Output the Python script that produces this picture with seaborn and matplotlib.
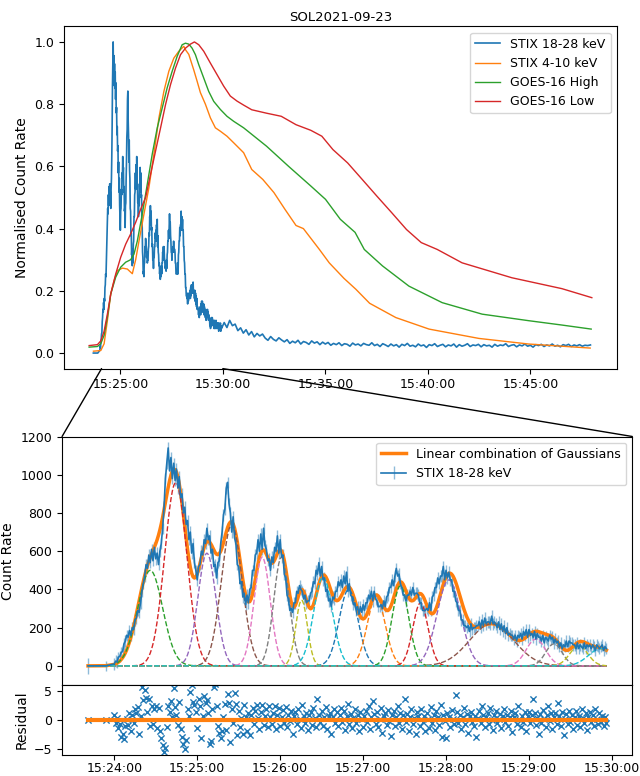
import numpy as np
import pandas as pd
import matplotlib
matplotlib.use("Agg")
import matplotlib.pyplot as plt
import matplotlib.dates as mdates
from matplotlib.patches import ConnectionPatch
import seaborn as sns

plt.rcParams["font.size"] = 9
plt.rcParams["axes.labelsize"] = 10
plt.rcParams["axes.titlesize"] = 9.5

# ---- reference times ----
T0 = pd.Timestamp("2021-09-23 15:24:00")   # zero of the STIX 18-28 keV bins
T25 = pd.Timestamp("2021-09-23 15:25:00")  # zero for the minute offsets of the top panel
TAIL_START = pd.Timestamp("2021-09-23 15:30:04")

# ---- STIX 18-28 keV counts (two long bins, then 1 s bins from 15:24:00) ----
early_sec = [-19, -6]
early_counts = [0, 0]
early_err = [40, 25]
count_err = 30
counts = [
    10, 25, 20, 45, 50, 70, 75, 115, 130, 160, 150, 185, 160, 200, 190, 240, 250, 290, 280, 330,
    390, 430, 470, 530, 510, 580, 540, 610, 550, 620, 560, 590, 530, 600, 640, 720, 830, 980, 1060, 1140,
    1020, 1090, 980, 1060, 970, 1030, 930, 990, 880, 900, 800, 830, 740, 760, 660, 700, 590, 640, 540, 500,
    450, 520, 530, 600, 580, 660, 640, 720, 660, 680, 590, 610, 520, 530, 460, 540, 550, 640, 700, 790,
    820, 930, 960, 850, 800, 700, 780, 670, 640, 530, 520, 430, 440, 360, 380, 320, 370, 330, 400, 410,
    500, 500, 580, 590, 660, 600, 690, 610, 720, 630, 610, 550, 560, 500, 570, 540, 620, 600, 680, 590,
    660, 570, 580, 480, 460, 370, 350, 290, 300, 280, 330, 330, 390, 380, 420, 400, 390, 350, 370, 330,
    340, 340, 380, 390, 440, 430, 500, 480, 540, 470, 520, 450, 460, 390, 400, 340, 350, 310, 360, 350,
    390, 390, 440, 420, 450, 410, 470, 430, 490, 390, 430, 370, 360, 320, 330, 290, 310, 270, 310, 280,
    320, 290, 330, 330, 370, 350, 390, 340, 390, 350, 340, 310, 310, 320, 300, 340, 310, 360, 370, 410,
    410, 450, 420, 470, 510, 470, 480, 430, 410, 370, 370, 340, 370, 370, 390, 370, 410, 370, 380, 380,
    370, 330, 330, 290, 290, 290, 300, 290, 330, 290, 360, 370, 410, 410, 460, 430, 470, 470, 520, 450,
    500, 460, 490, 450, 450, 390, 390, 340, 330, 290, 290, 240, 240, 210, 210, 200, 210, 180, 220, 190,
    200, 200, 210, 210, 230, 200, 240, 210, 250, 220, 230, 230, 220, 260, 220, 230, 220, 200, 230, 190,
    220, 180, 210, 170, 200, 160, 170, 160, 160, 140, 160, 130, 160, 150, 170, 140, 180, 160, 190, 150,
    190, 160, 170, 150, 180, 140, 170, 150, 150, 130, 160, 120, 150, 140, 130, 160, 140, 150, 120, 140,
    120, 130, 100, 120, 90, 110, 100, 130, 100, 130, 120, 120, 110, 110, 90, 120, 90, 110, 100, 90,
    120, 90, 110, 100, 110, 90, 110, 100, 80, 110, 100, 90, 100, 110, 80, 100, 90,
]

# ---- residuals of the fit, same bins ----
early_resid = [0.0, 0.0]
residuals = [
    0.9, -0.5, 0.3, -1.4, -0.8, -2.9, -2.4, -3.3, -1.0, 0.2, -0.9, 1.1, -2.0, 0.8, -0.6, 1.9, 1.2, 2.2, -2.5, 0.6,
    5.6, 3.4, 5.2, 3.8, 1.3, 3.6, -1.0, 2.4, -0.8, 1.9, 2.3, -1.4, 2.1, -1.9, -3.1, -4.4, -5.6, -4.8, -1.2, 2.3,
    1.4, 3.2, 0.4, 5.4, 2.2, 0.8, -0.9, 3.1, -1.6, -3.0, -4.1, -5.0, -3.5, 1.8, 0.6, 4.8, 6.0, 3.1, 2.6, 1.4,
    -1.4, 3.6, 2.4, -3.1, 0.6, 4.1, 2.9, 3.4, 1.1, -4.1, -3.6, 1.8, 5.6, 6.1, 2.3, -1.1, -2.2, -3.2, -2.0, 0.4,
    2.7, -1.8, 4.5, 2.9, -3.9, 1.9, -0.6, 4.6, 2.8, -2.6, 1.5, -1.2, 0.3, -2.4, 2.5, 0.4, -1.9, 1.2, -2.7, 0.9,
    2.1, -0.8, 1.6, 2.6, 0.3, -1.5, 1.4, 2.5, -0.9, 0.6, 1.8, -1.2, 2.3, 0.5, -0.7, 1.2, 2.4, -1.5, 0.8, 2.0,
    -1.1, 0.4, 1.7, -0.6, 2.2, -1.3, 0.9, -0.2, 1.5, -2.5, 0.7, 1.3, -0.8, 1.9, 0.2, -1.4, 2.6, 0.6, -0.5, 1.1,
    -1.7, 0.8, 1.4, -0.9, 2.1, 0.3, -1.2, 3.5, 0.9, -0.4, 1.6, -1.0, 0.5, 2.2, -1.5, 0.7, 1.2, -2.4, 0.4, 1.8,
    -0.6, 1.3, -1.1, 0.9, 2.1, -0.3, 1.5, -1.8, 0.6, 2.7, -0.8, 1.0, -1.4, 0.3, 1.9, -0.5, 0.8, -2.0, 1.3, 0.1,
    -1.2, 0.7, 1.6, -0.4, 2.4, -1.6, 0.5, 3.3, 1.0, -0.7, 1.4, -1.3, 0.2, 2.0, -2.3, 0.6, 1.1, -0.9, 1.7, -0.2,
    -2.8, 0.9, 1.5, -1.0, 0.4, 2.3, -0.6, 1.2, -1.5, 0.8, 3.6, -0.4, 1.0, -1.9, 0.5, 1.8, -0.8, 0.3, -2.5, 1.4,
    0.7, -1.1, 1.9, -0.3, 0.6, -2.0, 1.2, 0.2, -1.4, 2.2, -0.5, 0.9, -1.7, 1.5, 0.4, -0.9, 2.6, -3.0, 0.8, -0.2,
    -3.1, 1.1, 0.5, -1.2, 1.7, 0.1, -0.7, 4.2, 1.3, -0.6, 0.9, -1.6, 0.4, 2.1, -0.8, 1.0, -2.2, 0.6, 1.4, -0.4,
    -1.0, 0.7, -3.0, 0.3, 1.6, -0.5, 2.3, 0.9, -1.3, 0.4, 1.2, -0.8, 2.0, -0.1, -1.7, 0.8, 1.5, -0.6, 0.2, 1.0,
    -1.4, 0.6, 1.8, -0.3, 0.9, -1.1, 0.4, 1.6, -2.1, 0.5, 1.1, -0.7, 2.4, 0.2, -1.2, 0.7, -0.4, 1.3, -2.0, 0.6,
    1.4, -0.5, 0.8, 3.6, 1.2, -0.9, 0.3, -2.4, 1.0, -0.6, 1.7, 0.1, -1.3, 0.9, 2.3, -0.2, 1.1, -1.5, 0.5, 1.2,
    -0.8, 2.9, 0.6, -1.1, 1.3, -2.6, 0.2, 1.0, -0.7, 1.6, -0.3, 0.8, -1.6, 0.4, 1.5, -0.9, 0.7, -1.2, 1.9, 0.3,
    -0.6, 1.1, -1.8, 0.5, 1.4, -0.4, 0.9, -1.0, 1.8, 0.2, -0.8, 1.2, -0.3, 0.7, -1.1, 0.5, -0.6,
]

# ---- Gaussian components of the fit (centre s after 15:24:00, peak, width s) ----
gauss_centre = [26, 44.5, 67, 85, 107, 121, 135.5, 151, 169.5, 189.5, 207, 221.5, 242, 273, 305, 318, 336, 352]
gauss_peak = [500, 960, 590, 740, 570, 570, 345, 465, 400, 360, 420, 330, 450, 220, 140, 115, 105, 90]
gauss_width = [9, 8, 6.5, 7.5, 5.8, 5.6, 4.2, 6.8, 6.8, 6.5, 6, 5.5, 8.5, 16, 7, 6, 6.5, 9]

# ---- top panel: STIX 18-28 keV after 15:30 (normalised, 8 s steps) ----
blue_tail = [
    0.098, 0.082, 0.105, 0.088, 0.093,
    0.072, 0.081, 0.064, 0.075,
    0.058, 0.069, 0.052, 0.063, 0.055, 0.061,
    0.048, 0.041, 0.053, 0.044, 0.039, 0.049, 0.042,
    0.036, 0.043, 0.031, 0.038, 0.033, 0.041, 0.029, 0.037, 0.034, 0.028, 0.039, 0.032, 0.036, 0.027, 0.035,
    0.029, 0.034, 0.025, 0.031, 0.027, 0.033, 0.024, 0.030, 0.028, 0.022, 0.032, 0.026, 0.029, 0.023, 0.031,
    0.027, 0.025, 0.033, 0.024, 0.028, 0.021, 0.030,
    0.026, 0.021, 0.029, 0.023, 0.027, 0.019, 0.028, 0.024, 0.031, 0.022, 0.025, 0.020, 0.029, 0.023, 0.026,
    0.018, 0.027, 0.024, 0.030, 0.021,
    0.025, 0.028, 0.020, 0.026, 0.023, 0.029, 0.019, 0.027, 0.022, 0.025, 0.030, 0.021, 0.026, 0.024, 0.028,
    0.020, 0.027, 0.023, 0.025, 0.019,
    0.028, 0.022, 0.026, 0.024, 0.030, 0.021, 0.025, 0.027, 0.020, 0.026, 0.023, 0.029, 0.022, 0.025, 0.019,
    0.027, 0.024, 0.028, 0.021, 0.026,
    0.023, 0.029, 0.022, 0.025, 0.020, 0.027, 0.024, 0.028, 0.021, 0.026, 0.023, 0.027, 0.022, 0.025, 0.024,
    0.026,
]

# ---- top panel: smooth curves (minutes after 15:25, normalised value) ----
orange_min = [-1.311, -0.954, -0.791, -0.630, -0.468, -0.306, -0.143, 0.101, 0.342, 0.585, 0.748, 0.910,
              1.153, 1.395, 1.639, 1.882, 2.124, 2.367, 2.610, 2.853, 3.096, 3.177, 3.339, 3.582, 3.744,
              3.906, 4.149, 4.393, 4.636, 4.879, 5.203, 5.527, 6.014, 6.41, 6.95, 7.49, 8.03, 8.57, 8.93,
              9.71, 10.19, 10.91, 11.49, 12.16, 13.44, 15.06, 17.49, 19.92, 22.92]
orange_val = [0.006, 0.008, 0.03, 0.105, 0.19, 0.233, 0.265, 0.273, 0.27, 0.255, 0.30, 0.36,
              0.447, 0.532, 0.64, 0.756, 0.841, 0.906, 0.948, 0.97, 0.986, 0.975, 0.96, 0.91, 0.874,
              0.837, 0.80, 0.756, 0.724, 0.713, 0.697, 0.676, 0.644, 0.59, 0.558, 0.516, 0.462, 0.41, 0.40,
              0.333, 0.29, 0.24, 0.205, 0.16, 0.114, 0.077, 0.047, 0.029, 0.016]

green_min = [-1.522, -1.117, -0.954, -0.792, -0.630, -0.468, -0.225, 0.018, 0.261, 0.504, 0.666, 0.828,
             1.072, 1.315, 1.558, 1.801, 2.044, 2.287, 2.530, 2.773, 3.015, 3.177, 3.339, 3.501, 3.663,
             3.825, 4.068, 4.311, 4.555, 4.879, 5.203, 5.527, 6.014, 7.13, 8.21, 9.29, 10.01, 10.73,
             11.45, 11.9, 12.79, 14.08, 15.70, 17.65, 19.92, 21.54, 22.97]
green_val = [0.019, 0.021, 0.03, 0.057, 0.116, 0.19, 0.244, 0.276, 0.292, 0.30, 0.318, 0.36,
             0.447, 0.543, 0.64, 0.724, 0.788, 0.853, 0.906, 0.954, 0.991, 0.996, 0.993, 0.98, 0.959,
             0.927, 0.884, 0.841, 0.809, 0.783, 0.761, 0.745, 0.724, 0.665, 0.60, 0.537, 0.494, 0.43,
             0.388, 0.333, 0.28, 0.215, 0.162, 0.125, 0.104, 0.09, 0.077]

red_min = [-1.522, -1.117, -0.954, -0.792, -0.630, -0.468, -0.225, 0.018, 0.261, 0.504, 0.747, 0.990,
           1.233, 1.476, 1.720, 1.963, 2.206, 2.449, 2.692, 2.935, 3.177, 3.420, 3.615, 3.826, 4.069,
           4.393, 4.717, 5.041, 5.366, 5.689, 6.014, 6.41, 7.13, 7.85, 8.57, 9.29, 9.83, 10.37, 11.09,
           11.80, 12.52, 13.24, 13.96, 14.68, 15.46, 16.67, 19.1, 21.54, 23.0]
red_val = [0.024, 0.027, 0.039, 0.07, 0.126, 0.19, 0.254, 0.308, 0.35, 0.383, 0.42, 0.462,
           0.5, 0.575, 0.65, 0.724, 0.799, 0.863, 0.916, 0.959, 0.98, 0.993, 1.0, 0.991, 0.97,
           0.932, 0.895, 0.858, 0.826, 0.81, 0.797, 0.782, 0.771, 0.761, 0.734, 0.716, 0.697, 0.654, 0.611,
           0.558, 0.504, 0.451, 0.397, 0.355, 0.333, 0.29, 0.242, 0.207, 0.178]

# ---- build series ----
sec = np.r_[early_sec, np.arange(len(counts))].astype(float)
t_bins = T0 + pd.to_timedelta(sec, unit="s")
y_counts = np.array(early_counts + counts, dtype=float)
y_err = np.array(early_err + [count_err] * len(counts), dtype=float)
y_resid = np.array(early_resid + residuals)

components = [a * np.exp(-(sec - c) ** 2 / (2 * w ** 2))
              for c, a, w in zip(gauss_centre, gauss_peak, gauss_width)]
fit = np.sum(components, axis=0)

t_tail = pd.date_range(TAIL_START, periods=len(blue_tail), freq="8s")
top_blue = pd.DataFrame({
    "time": list(t_bins) + list(t_tail),
    "value": np.r_[y_counts / y_counts.max(), blue_tail],
})

def minutes_to_time(m):
    return T25 + pd.to_timedelta(np.array(m) * 60, unit="s")

fig = plt.figure(figsize=(6.4, 7.76), dpi=100)
ax_t = fig.add_axes([0.100, 0.525, 0.864, 0.441])
ax_b = fig.add_axes([0.097, 0.1173, 0.891, 0.3202])
ax_r = fig.add_axes([0.097, 0.0275, 0.891, 0.0898], sharex=ax_b)

# top panel
sns.lineplot(data=top_blue, x="time", y="value", ax=ax_t, color="C0", lw=1.2,
             estimator=None, label="STIX 18-28 keV")
sns.lineplot(x=minutes_to_time(orange_min), y=orange_val, ax=ax_t, color="C1", lw=1,
             estimator=None, label="STIX 4-10 keV")
sns.lineplot(x=minutes_to_time(green_min), y=green_val, ax=ax_t, color="C2", lw=1,
             estimator=None, label="GOES-16 High")
sns.lineplot(x=minutes_to_time(red_min), y=red_val, ax=ax_t, color="C3", lw=1,
             estimator=None, label="GOES-16 Low")
ax_t.set_title("SOL2021-09-23", pad=4)
ax_t.set_xlabel("")
ax_t.xaxis.label.set_visible(False)
ax_t.set_ylabel("Normalised Count Rate")
ax_t.legend(loc="upper right")
ax_t.xaxis.set_major_locator(mdates.MinuteLocator(byminute=[25, 30, 35, 40, 45]))
ax_t.xaxis.set_major_formatter(mdates.DateFormatter("%H:%M:%S"))

# bottom panel
ax_b.errorbar(t_bins, y_counts, yerr=y_err, color="C0", ecolor=(0.12, 0.47, 0.71, 0.5),
              lw=1.2, elinewidth=1, label="STIX 18-28 keV")
sns.lineplot(x=t_bins, y=fit, ax=ax_b, color="C1", lw=2.5, estimator=None,
             label="Linear combination of Gaussians")
for i, comp in enumerate(components):
    ax_b.plot(t_bins, comp, "--", lw=1, color=f"C{(i + 2) % 10}")
ax_b.set_ylim(-100, 1200)
ax_b.set_ylabel("Count Rate")
ax_b.set_xlabel("")
ax_b.xaxis.label.set_visible(False)
ax_b.legend(loc="upper right")
ax_b.tick_params(axis="x", bottom=False, labelbottom=False)

# residuals
sns.scatterplot(x=t_bins, y=y_resid, ax=ax_r, marker="x", color="C0", s=20, linewidth=1, zorder=2)
ax_r.plot(t_bins, np.zeros(len(t_bins)), color="C1", lw=3, zorder=3)
ax_r.set_ylim(-6, 6)
ax_r.set_yticks([-5, 0, 5])
ax_r.set_ylabel("Residual")
ax_r.set_xlabel("")
ax_r.xaxis.label.set_visible(False)
ax_r.tick_params(axis="x", pad=1.5)
ax_r.xaxis.set_major_locator(mdates.MinuteLocator())
ax_r.xaxis.set_major_formatter(mdates.DateFormatter("%H:%M:%S"))

# zoom connectors
zoom_from = [pd.Timestamp("2021-09-23 15:24:05"), pd.Timestamp("2021-09-23 15:30:00")]
for ts, corner in zip(zoom_from, [(0, 1), (1, 1)]):
    con = ConnectionPatch(xyA=(mdates.date2num(ts), 0), coordsA=ax_t.get_xaxis_transform(),
                          xyB=corner, coordsB=ax_b.transAxes, color="black", lw=1)
    fig.add_artist(con)

fig.savefig("out.png", dpi=100)
